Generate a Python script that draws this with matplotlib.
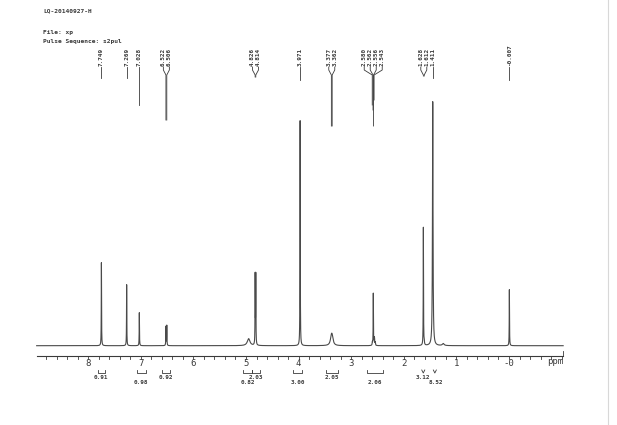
import numpy as np
import matplotlib
matplotlib.use("Agg")
import matplotlib.pyplot as plt

# header lines printed above the spectrum
title = "LQ-20140927-H"
file_line = "File: xp"
pulse_line = "Pulse Sequence: s2pul"

# peaks: position (ppm), height, half width
peak_ppm = [7.749, 7.269, 7.028, 6.522, 6.506, 4.95, 4.826, 4.814, 3.971,
            3.377, 3.362, 2.598, 2.580, 2.562, 2.556, 2.543, 1.628, 1.612,
            1.45, 1.25, -0.007]
peak_height = [83, 61, 33, 19, 20, 7, 69, 69, 225,
               7, 7, 3, 52, 6, 5, 3, 118, 3,
               244, 2, 56]
peak_hwhm = [0.003, 0.003, 0.003, 0.003, 0.003, 0.03, 0.003, 0.003, 0.003,
             0.022, 0.022, 0.004, 0.003, 0.004, 0.004, 0.004, 0.003, 0.004,
             0.006, 0.02, 0.003]

# peak labels across the top: groups of (label texts, peak positions, line ends)
label_groups = [
    (["7.749"], [7.749], [78]),
    (["7.269"], [7.269], [78]),
    (["7.028"], [7.028], [105]),
    (["6.522", "6.506"], [6.522, 6.506], [120, 120]),
    (["4.826", "4.814"], [4.826, 4.814], [77, 77]),
    (["3.971"], [3.971], [80]),
    (["3.377", "3.362"], [3.377, 3.362], [126, 126]),
    (["2.580", "2.562", "2.556", "2.543"], [2.600, 2.585, 2.575, 2.565], [105, 110, 126, 100]),
    (["1.628", "1.612"], [1.628, 1.612], [76, 76]),
    (["1.411"], [1.45], [78]),
    (["-0.007"], [-0.007], [80]),
]

# integrals: region (ppm), value, text row
int_left = [7.82, 7.08, 6.60, 5.05, 4.88, 4.10, 3.48, 2.70]
int_right = [7.68, 6.90, 6.44, 4.88, 4.74, 3.94, 3.26, 2.40]
int_value = ["0.91", "0.98", "0.92", "0.82", "2.03", "3.00", "2.05", "2.06"]
int_row = [0, 1, 0, 1, 0, 1, 0, 1]
v_ppm = [1.63, 1.41]
v_value = ["3.12", "8.52"]
v_row = [0, 1]

tick_values = [8, 7, 6, 5, 4, 3, 2, 1, 0]
tick_labels = ["8", "7", "6", "5", "4", "3", "2", "1", "-0"]

# pixel layout helpers
PX_PER_PPM = 52.6
X0_PX = 509.0          # pixel of 0 ppm
BASE_PX = 345.7        # baseline, pixels from top
W, H = 617, 425


def px_to_ppm(px):
    return (X0_PX - px) / PX_PER_PPM


def py(px):
    return BASE_PX - px


fig = plt.figure(figsize=(W / 100, H / 100), dpi=100)
ax = fig.add_axes([0, 0, 1, 1])
ax.set_xlim(px_to_ppm(0), px_to_ppm(W))
ax.set_ylim(BASE_PX - H, BASE_PX)
ax.axis("off")

ink = "#3a3a3a"
mono = "DejaVu Sans Mono"

# spectrum
ppm = np.arange(8.98, -1.03, -0.0005)
spec = np.zeros_like(ppm)
for c, h, w in zip(peak_ppm, peak_height, peak_hwhm):
    spec += h / (1 + ((ppm - c) / w) ** 2)
ax.plot(ppm, spec, color="#4a4a4a", lw=0.8)

# ppm ruler
ax.plot([8.98, -1.03], [py(356), py(356)], color=ink, lw=0.8)
for t in np.arange(-1.0, 9.0, 0.2):
    ax.plot([t, t], [py(356), py(358.5)], color=ink, lw=0.6)
ax.plot([-1.03, -1.03], [py(351), py(356)], color=ink, lw=0.6)
for t, lab in zip(tick_values, tick_labels):
    ax.text(t, py(363), lab, ha="center", va="center", fontsize=6.5,
            family=mono, color=ink)
ax.text(px_to_ppm(555), py(362), "ppm", ha="center", va="center",
        fontsize=6.5, family=mono, color=ink)

# header text
ax.text(px_to_ppm(43), py(11), title, ha="left", va="center", fontsize=4.5,
        family=mono, color=ink, fontweight="bold")
ax.text(px_to_ppm(43), py(32), file_line, ha="left", va="center", fontsize=4.5,
        family=mono, color=ink, fontweight="bold")
ax.text(px_to_ppm(43), py(41), pulse_line, ha="left", va="center", fontsize=4.5,
        family=mono, color=ink, fontweight="bold")

# peak labels with pointer lines
for texts, targets, ends in label_groups:
    n = len(texts)
    centre_px = X0_PX - PX_PER_PPM * np.mean(targets)
    for i, (txt, tgt, end) in enumerate(zip(texts, targets, ends)):
        lx = px_to_ppm(centre_px + (i - (n - 1) / 2) * 6.0)
        ax.text(lx, py(66), txt, rotation=90, ha="center", va="bottom",
                fontsize=4.3, family=mono, color=ink, fontweight="bold")
        if n == 1:
            ax.plot([tgt, tgt], [py(67), py(end)], color=ink, lw=0.6)
        else:
            ax.plot([lx, lx, tgt, tgt], [py(67), py(70), py(75), py(end)],
                    color=ink, lw=0.6)

# integral brackets and values
for a, b, val, row in zip(int_left, int_right, int_value, int_row):
    ax.plot([a, a, b, b], [py(370), py(372.5), py(372.5), py(370)],
            color=ink, lw=0.6)
    ax.text((a + b) / 2, py(377.5 + 5 * row), val, ha="center", va="center",
            fontsize=4.3, family=mono, color=ink, fontweight="bold")
for c, val, row in zip(v_ppm, v_value, v_row):
    d = 1.5 / PX_PER_PPM
    ax.plot([c + d, c, c - d], [py(370), py(373), py(370)], color=ink, lw=0.6)
    ax.text(c - 0.5 * row / PX_PER_PPM * 3, py(377.5 + 5 * row), val,
            ha="center", va="center", fontsize=4.3, family=mono, color=ink,
            fontweight="bold")

# scanned page edge
ax.plot([px_to_ppm(608), px_to_ppm(608)], [py(0), py(425)], color="#d8d8d8", lw=0.8)

fig.savefig("out.png", dpi=100)
